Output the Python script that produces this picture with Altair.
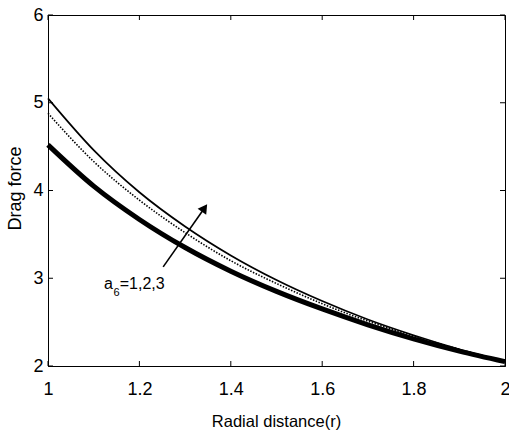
import altair as alt
import pandas as pd

# Radial distance values
r = [1.0, 1.1, 1.2, 1.3, 1.4, 1.5, 1.6, 1.7, 1.8, 1.9, 2.0]
# Drag force, a6 = 1 (thick), 2 (dotted), 3 (thin solid)
f_a1 = [4.52, 4.05, 3.67, 3.35, 3.08, 2.85, 2.65, 2.47, 2.31, 2.17, 2.05]
f_a2 = [4.88, 4.33, 3.89, 3.52, 3.20, 2.94, 2.71, 2.51, 2.34, 2.19, 2.05]
f_a3 = [5.05, 4.46, 3.98, 3.59, 3.26, 2.98, 2.74, 2.53, 2.35, 2.19, 2.05]

x_ticks = [1.0, 1.2, 1.4, 1.6, 1.8, 2.0]
y_ticks = [2, 3, 4, 5, 6]

# annotation arrow (tail, head) and label pieces
arrow_r = [1.252, 1.3425]
arrow_f = [3.13, 3.80]
head_r = [1.3425]
head_f = [3.80]
label_main = "a"
label_sub = "6"
label_rest = "=1,2,3"
label_r = [1.1225, 1.1435, 1.157]
label_f = [2.878, 2.80, 2.878]

W, H = 457, 351
FONT = "Liberation Sans, Arial, sans-serif"

df = pd.DataFrame({"r": r, "a1": f_a1, "a2": f_a2, "a3": f_a3})

xs = alt.Scale(domain=[1, 2], nice=False, zero=False)
ys = alt.Scale(domain=[2, 6], nice=False, zero=False)

xaxis = alt.Axis(values=x_ticks, format="~g", title="Radial distance(r)", grid=False,
                 ticks=False, tickSize=0, labelPadding=14, labelFont=FONT, labelFontSize=18,
                 labelColor="black", domainColor="black", titleFont=FONT, titleFontSize=16.5,
                 titleFontWeight="normal", titleColor="black", titleX=228, titleY=60,
                 titleBaseline="alphabetic", labelFlush=False, labelOverlap=False)
yaxis = alt.Axis(values=y_ticks, format="d", title="Drag force", grid=False,
                 ticks=False, tickSize=0, labelPadding=5, labelFont=FONT, labelFontSize=18,
                 labelColor="black", domainColor="black", titleFont=FONT, titleFontSize=18,
                 titleFontWeight="normal", titleColor="black", titleAngle=270, titleX=-28,
                 titleY=173, titleBaseline="alphabetic", labelFlush=False, labelOverlap=False)

base = alt.Chart(df)

thick = base.mark_line(color="black", strokeWidth=5, interpolate="monotone").encode(
    x=alt.X("r:Q", scale=xs, axis=xaxis), y=alt.Y("a1:Q", scale=ys, axis=yaxis))
dotted = base.mark_line(color="black", strokeWidth=1.6, strokeDash=[1.5, 1.5],
                        interpolate="monotone").encode(
    x=alt.X("r:Q", scale=xs), y=alt.Y("a2:Q", scale=ys))
thin = base.mark_line(color="black", strokeWidth=1.7, interpolate="monotone").encode(
    x=alt.X("r:Q", scale=xs), y=alt.Y("a3:Q", scale=ys))

xt = pd.DataFrame({"r": x_ticks})
yt = pd.DataFrame({"f": y_ticks})
xt_bot = alt.Chart(xt).mark_rule(color="black", strokeWidth=1).encode(
    x=alt.X("r:Q", scale=xs), y=alt.value(H), y2=alt.value(H - 5))
xt_top = alt.Chart(xt).mark_rule(color="black", strokeWidth=1).encode(
    x=alt.X("r:Q", scale=xs), y=alt.value(0), y2=alt.value(5))
yt_left = alt.Chart(yt).mark_rule(color="black", strokeWidth=1).encode(
    y=alt.Y("f:Q", scale=ys), x=alt.value(0), x2=alt.value(5))
yt_right = alt.Chart(yt).mark_rule(color="black", strokeWidth=1).encode(
    y=alt.Y("f:Q", scale=ys), x=alt.value(W), x2=alt.value(W - 5))

arrow = alt.Chart(pd.DataFrame({"r": arrow_r, "f": arrow_f})).mark_line(
    color="black", strokeWidth=1.6).encode(x=alt.X("r:Q", scale=xs), y=alt.Y("f:Q", scale=ys))
head = alt.Chart(pd.DataFrame({"r": head_r, "f": head_f})).mark_point(
    shape="triangle-up", filled=True, color="black", opacity=1, size=110, angle=35).encode(
    x=alt.X("r:Q", scale=xs), y=alt.Y("f:Q", scale=ys))

lab = pd.DataFrame({"r": label_r, "f": label_f, "t": [label_main, label_sub, label_rest],
                    "s": [16, 11, 16]})
labels = alt.Chart(lab).mark_text(font=FONT, align="left", baseline="alphabetic",
                                  color="black").encode(
    x=alt.X("r:Q", scale=xs), y=alt.Y("f:Q", scale=ys), text="t:N",
    size=alt.Size("s:Q", scale=None, legend=None))

chart = alt.layer(thick, dotted, thin, xt_bot, xt_top, yt_left, yt_right, arrow, head, labels).properties(
    width=W, height=H,
    autosize=alt.AutoSizeParams(type="none"),
    padding={"left": 48, "top": 15, "right": 4, "bottom": 73},
    background="white",
).configure_view(stroke="black", strokeWidth=1)

chart.save("out.html", embed_options={"renderer": "svg", "actions": False})
